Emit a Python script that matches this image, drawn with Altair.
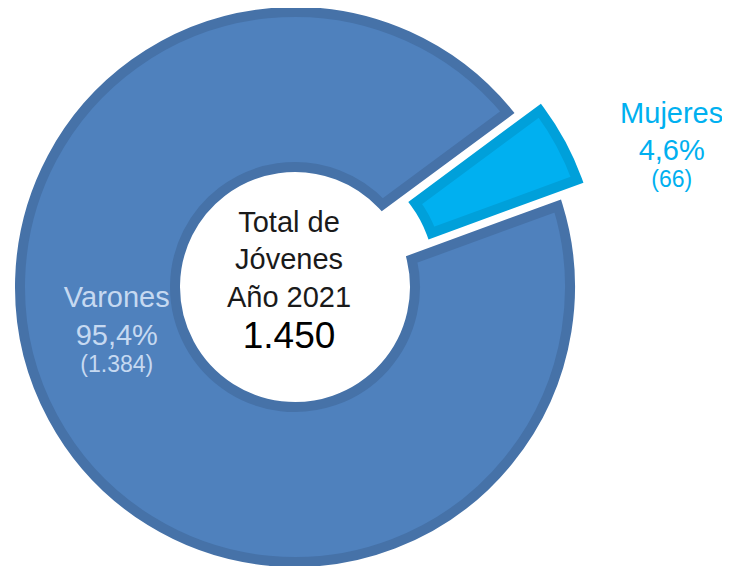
import math
import altair as alt
import pandas as pd

# ---- data ----
categories = ["Varones", "Mujeres"]
values = [1384, 66]
center_lines = ["Total de", "Jóvenes", "Año 2021"]

total = sum(values)


def es_int(n):
    return f"{n:,}".replace(",", ".")


pct_labels = [f"{v / total * 100:.1f}%".replace(".", ",") for v in values]
count_labels = [f"({es_int(v)})" for v in values]

df = pd.DataFrame({"cat": categories, "value": values, "pct": pct_labels, "cnt": count_labels})
center_df = pd.DataFrame({"line": center_lines + [es_int(total)], "i": list(range(len(center_lines) + 1))})

FONT = "Liberation Sans"
start = math.radians(53.5)
theta_scale = alt.Scale(domain=[0, total], range=[start, start + 2 * math.pi])

base = (
    alt.Chart(df)
    .transform_window(cum="sum(value)", sort=[alt.SortField("value", order="ascending")], frame=[None, 0])
    .transform_calculate(start="datum.cum - datum.value", mid="datum.cum - datum.value / 2")
)

is_v = alt.datum.cat == "Varones"
is_m = alt.datum.cat == "Mujeres"

arc_enc = dict(theta=alt.Theta("start:Q", scale=theta_scale, stack=False), theta2="cum:Q")

varones_arc = base.transform_filter(is_v).mark_arc(
    outerRadius=275, innerRadius=120, strokeWidth=10, padAngle=0.095, strokeJoin="miter",
    fill="#4F81BD", stroke="#4672A8",
).encode(**arc_enc)

mujeres_arc = base.transform_filter(is_m).mark_arc(
    outerRadius=275, innerRadius=120, strokeWidth=10, strokeJoin="miter",
    xOffset=23.8, yOffset=-12.7, fill="#00B0F0", stroke="#00A0DA",
).encode(**arc_enc)


def label(pred, field, size, dy, radius, toff, color):
    return base.transform_filter(pred).mark_text(
        radius=radius, thetaOffset=toff, dy=dy, fontSize=size, font=FONT,
        color=color, align="center", baseline="alphabetic",
    ).encode(
        theta=alt.Theta("mid:Q", scale=theta_scale, stack=False),
        text=alt.Text(f"{field}:N"),
    )


V_COL = "#C6D9F1"
M_COL = "#00B0F0"
labels = [
    label(is_v, "cat", 29, -38, 187.5, 0.178, V_COL),
    label(is_v, "pct", 29, 0, 187.5, 0.178, V_COL),
    label(is_v, "cnt", 23, 27, 187.5, 0.178, V_COL),
    label(is_m, "cat", 29, -37, 397.5, 0.169, M_COL),
    label(is_m, "pct", 29, 0, 397.5, 0.169, M_COL),
    label(is_m, "cnt", 23, 27, 397.5, 0.169, M_COL),
]

center_base = alt.Chart(center_df)
center_dy = [-55.3, -18, 19.7, 61.3]
center_layers = []
for k, dy in enumerate(center_dy):
    big = k == len(center_dy) - 1
    center_layers.append(
        center_base.transform_filter(alt.datum.i == k)
        .mark_text(
            dx=-6, dy=dy, font=FONT, fontSize=37 if big else 29,
            color="#000000" if big else "#1A1A1A",
            align="center", baseline="alphabetic",
        )
        .encode(text="line:N")
    )

chart = (
    alt.layer(varones_arc, mujeres_arc, *labels, *center_layers)
    .properties(
        width=574, height=558, background="white",
        padding={"left": 0, "top": 0, "right": 140, "bottom": 0},
        autosize=alt.AutoSizeParams(type="none"),
    )
    .configure_view(strokeWidth=0)
)

chart.save("out.html", embed_options={"renderer": "svg", "actions": False})
